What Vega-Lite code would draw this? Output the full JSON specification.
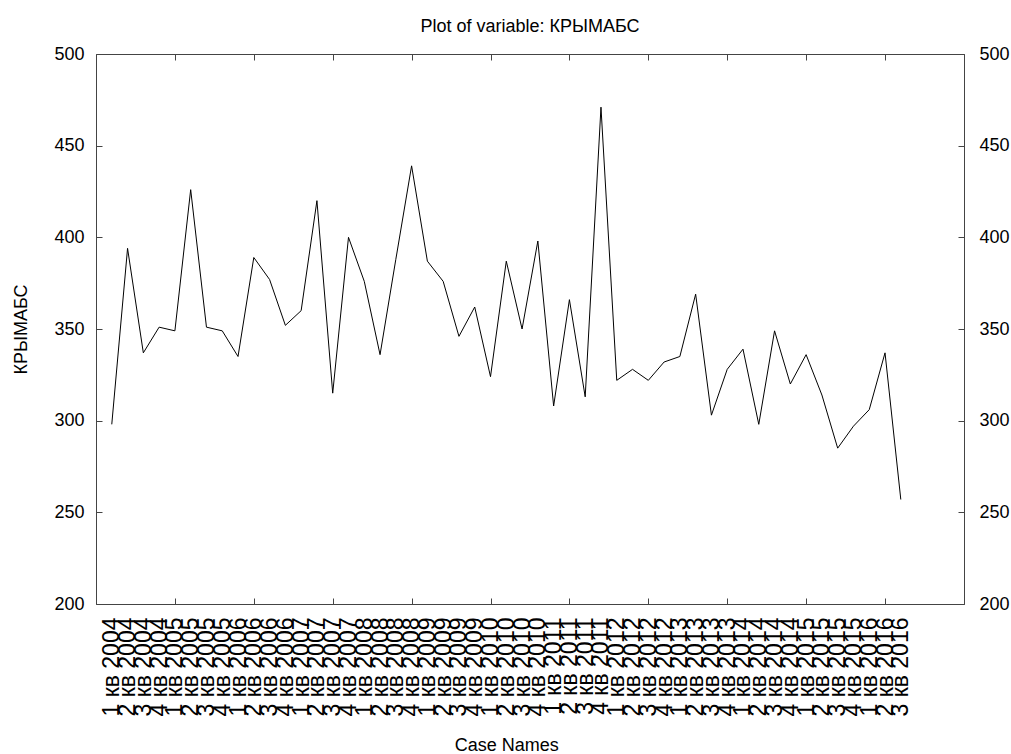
{
  "$schema": "https://vega.github.io/schema/vega-lite/v6.json",
  "width": 868,
  "height": 550,
  "autosize": {"type": "none"},
  "padding": {"left": 96, "top": 54, "right": 47, "bottom": 150},
  "background": "white",
  "title": {"text": "Plot of variable: КРЫМАБС", "font": "Liberation Sans", "fontSize": 18, "fontWeight": "normal", "color": "#000", "anchor": "middle", "offset": 9},
  "config": {"view": {"stroke": "#444", "strokeWidth": 1}, "axis": {"domainColor": "#444", "tickColor": "#444", "labelColor": "#000", "titleColor": "#000", "labelFont": "Liberation Sans", "titleFont": "Liberation Sans", "grid": false}},
  "data": {"values": [
    {"q": "1 кв 2004", "v": 298}, {"q": "2 кв 2004", "v": 394}, {"q": "3 кв 2004", "v": 337}, {"q": "4 кв 2004", "v": 351},
    {"q": "1 кв 2005", "v": 349}, {"q": "2 кв 2005", "v": 426}, {"q": "3 кв 2005", "v": 351}, {"q": "4 кв 2005", "v": 349},
    {"q": "1 кв 2006", "v": 335}, {"q": "2 кв 2006", "v": 389}, {"q": "3 кв 2006", "v": 377}, {"q": "4 кв 2006", "v": 352},
    {"q": "1 кв 2007", "v": 360}, {"q": "2 кв 2007", "v": 420}, {"q": "3 кв 2007", "v": 315}, {"q": "4 кв 2007", "v": 400},
    {"q": "1 кв 2008", "v": 376}, {"q": "2 кв 2008", "v": 336}, {"q": "3 кв 2008", "v": 388}, {"q": "4 кв 2008", "v": 439},
    {"q": "1 кв 2009", "v": 387}, {"q": "2 кв 2009", "v": 376}, {"q": "3 кв 2009", "v": 346}, {"q": "4 кв 2009", "v": 362},
    {"q": "1 кв 2010", "v": 324}, {"q": "2 кв 2010", "v": 387}, {"q": "3 кв 2010", "v": 350}, {"q": "4 кв 2010", "v": 398},
    {"q": "1 кв 2011", "v": 308}, {"q": "2 кв 2011", "v": 366}, {"q": "3 кв 2011", "v": 313}, {"q": "4 кв 2011", "v": 471},
    {"q": "1 кв 2012", "v": 322}, {"q": "2 кв 2012", "v": 328}, {"q": "3 кв 2012", "v": 322}, {"q": "4 кв 2012", "v": 332},
    {"q": "1 кв 2013", "v": 335}, {"q": "2 кв 2013", "v": 369}, {"q": "3 кв 2013", "v": 303}, {"q": "4 кв 2013", "v": 328},
    {"q": "1 кв 2014", "v": 339}, {"q": "2 кв 2014", "v": 298}, {"q": "3 кв 2014", "v": 349}, {"q": "4 кв 2014", "v": 320},
    {"q": "1 кв 2015", "v": 336}, {"q": "2 кв 2015", "v": 314}, {"q": "3 кв 2015", "v": 285}, {"q": "4 кв 2015", "v": 297},
    {"q": "1 кв 2016", "v": 306}, {"q": "2 кв 2016", "v": 337}, {"q": "3 кв 2016", "v": 257}
  ]},
  "layer": [
    {
      "mark": {"type": "line", "color": "#000", "strokeWidth": 1},
      "encoding": {
        "x": {"field": "q", "type": "ordinal", "sort": null,
          "scale": {"type": "point", "padding": 0, "range": [15.78, 804.8]},
          "axis": {"orient": "bottom", "title": "Case Names", "titleFontSize": 18, "titleFontWeight": "normal", "titlePadding": 20,
            "labelAngle": 270, "labelAlign": "right", "labelBaseline": "middle", "labelFontSize": 23, "labelOverlap": false, "labelPadding": 19,
            "tickSize": -6,
            "tickOpacity": {"condition": {"test": "indexof(domain('x'), datum.value) % 5 == 4", "value": 1}, "value": 0}}},
        "y": {"field": "v", "type": "quantitative",
          "scale": {"domain": [200, 500], "nice": false, "zero": false},
          "axis": {"orient": "left", "title": "КРЫМАБС", "titleFontSize": 18, "titleFontWeight": "normal", "titlePadding": 23,
            "values": [200, 250, 300, 350, 400, 450, 500], "labelFontSize": 18, "tickSize": -6, "labelPadding": 18}}
      }
    },
    {
      "mark": {"type": "line", "color": "#000", "strokeWidth": 1, "opacity": 0},
      "encoding": {
        "x": {"field": "q", "type": "ordinal", "sort": null,
          "axis": {"orient": "top", "title": null, "labels": false, "tickSize": -6,
            "tickOpacity": {"condition": {"test": "indexof(domain('x'), datum.value) % 5 == 4", "value": 1}, "value": 0}}},
        "y": {"field": "v", "type": "quantitative",
          "axis": {"orient": "right", "title": null, "values": [200, 250, 300, 350, 400, 450, 500], "labelFontSize": 18, "tickSize": -6, "labelPadding": 21}}
      }
    }
  ],
  "resolve": {"axis": {"x": "independent", "y": "independent"}}
}
